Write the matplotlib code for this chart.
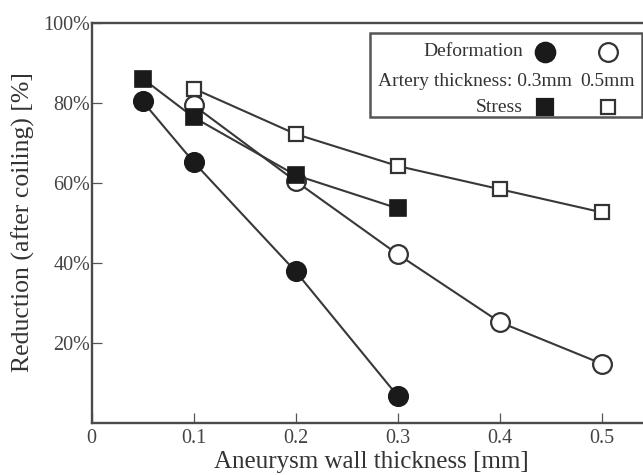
import matplotlib
matplotlib.use("Agg")
import matplotlib.pyplot as plt
from matplotlib.patches import Rectangle
from matplotlib.lines import Line2D

# Aneurysm wall thickness [mm] and reduction after coiling [%]
x_def_03 = [0.05, 0.1, 0.2, 0.3]
def_03 = [80.4, 65.2, 37.8, 6.6]

x_def_05 = [0.1, 0.2, 0.3, 0.4, 0.5]
def_05 = [79.4, 60.4, 42.1, 25.1, 14.7]

x_str_03 = [0.05, 0.1, 0.2, 0.3]
str_03 = [86.1, 76.4, 61.9, 53.6]

x_str_05 = [0.1, 0.2, 0.3, 0.4, 0.5]
str_05 = [83.6, 72.2, 64.2, 58.4, 52.6]

x_ticks = [0, 0.1, 0.2, 0.3, 0.4, 0.5]
x_tick_labels = ["0", "0.1", "0.2", "0.3", "0.4", "0.5"]
y_ticks = [20, 40, 60, 80, 100]
y_tick_labels = ["20%", "40%", "60%", "80%", "100%"]

plt.rcParams["font.family"] = ["Liberation Serif", "DejaVu Serif"]

W, H = 643, 475
fig = plt.figure(figsize=(W / 100, H / 100), dpi=100)

# axes placed in pixel terms: origin at (91.5, 422.5), top at 23, x up to 0.55
x0_px, y0_px, ytop_px = 91.5, 422.5, 23.0
px_per_x = 1021.0
xmax = 0.55
ax = fig.add_axes([x0_px / W, (H - y0_px) / H,
                   xmax * px_per_x / W, (y0_px - ytop_px) / H])
ax.set_xlim(0, xmax)
ax.set_ylim(0, 100)

line_col = "#383838"
spine_col = "#4a4a4a"
lw = 1.5

ax.plot(x_def_05, def_05, "-o", color=line_col, lw=lw, ms=13.5,
        mfc="white", mec="#333333", mew=1.6, zorder=3)
ax.plot(x_str_05, str_05, "-s", color=line_col, lw=lw, ms=10.5,
        mfc="white", mec="#333333", mew=1.6, zorder=4)
ax.plot(x_str_03, str_03, "-s", color=line_col, lw=lw, ms=11.0,
        mfc="#1a1a1a", mec="#1a1a1a", mew=1.2, zorder=5)
ax.plot(x_def_03, def_03, "-o", color=line_col, lw=lw, ms=14.0,
        mfc="#1a1a1a", mec="#1a1a1a", mew=1.2, zorder=6)

for side in ("left", "bottom", "top"):
    ax.spines[side].set_color(spine_col)
    ax.spines[side].set_linewidth(1.7)
ax.spines["right"].set_visible(False)

ax.set_xticks(x_ticks)
ax.set_xticklabels(x_tick_labels)
ax.set_yticks(y_ticks)
ax.set_yticklabels(y_tick_labels)
ax.tick_params(axis="both", direction="in", length=7, width=0.9,
               color="#555555", labelcolor="#444444", labelsize=14.5)
ax.tick_params(axis="x", pad=5)
ax.tick_params(axis="y", pad=1)

fig.text(371 / W, 1 - 468 / H, "Aneurysm wall thickness [mm]",
         ha="center", va="baseline", fontsize=18, color="#333333")
fig.text(23 / W, 1 - 222.5 / H, "Reduction (after coiling) [%]",
         ha="center", va="center", rotation=90, fontsize=18.5, color="#333333")

# key box
def fx(px):
    return px / W


def fy(py):
    return 1 - py / H


box = Rectangle((fx(370), fy(116.7)), fx(642) - fx(370), fy(32.7) - fy(116.7),
                transform=fig.transFigure, fill=True, facecolor="white",
                edgecolor="#555555", linewidth=1.8, zorder=10)
fig.add_artist(box)

key_fs = 14
fig.text(fx(523), fy(51.7), "Deformation", ha="right", va="center",
         fontsize=key_fs, color="#333333", zorder=11)
fig.text(fx(378), fy(81.7), "Artery thickness: 0.3mm", ha="left", va="center",
         fontsize=key_fs, color="#333333", zorder=11)
fig.text(fx(580.7), fy(81.7), "0.5mm", ha="left", va="center",
         fontsize=key_fs, color="#333333", zorder=11)
fig.text(fx(523), fy(107), "Stress", ha="right", va="center",
         fontsize=key_fs, color="#333333", zorder=11)

key_markers = [
    (545, 51.7, "o", "#1a1a1a", "#1a1a1a", 14.0),
    (608, 51.7, "o", "white", "#333333", 13.5),
    (545, 107, "s", "#1a1a1a", "#1a1a1a", 11.0),
    (608, 107, "s", "white", "#333333", 10.5),
]
for mx, my, mk, fc, ec, ms in key_markers:
    fig.add_artist(Line2D([fx(mx)], [fy(my)], marker=mk, ms=ms, mfc=fc,
                          mec=ec, mew=1.6, linestyle="none",
                          transform=fig.transFigure, zorder=12))

fig.savefig("out.png", dpi=100)
